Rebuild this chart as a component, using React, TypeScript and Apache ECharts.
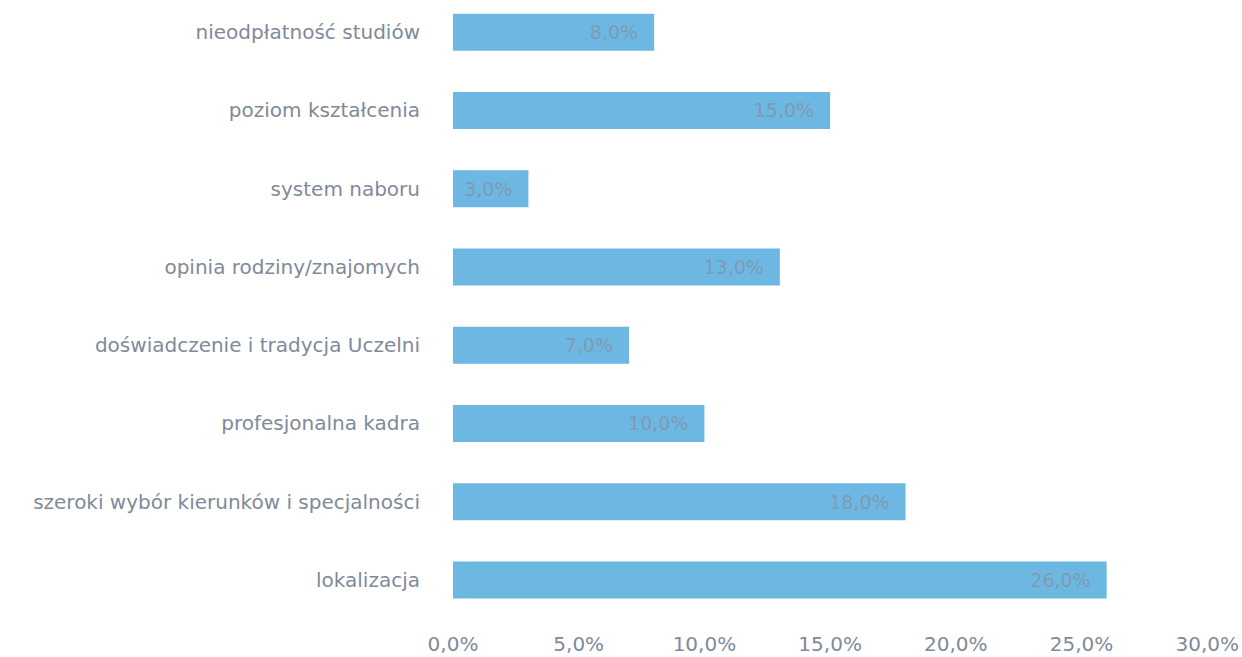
import React, { useEffect, useRef } from "react";
import * as echarts from "echarts";

const categories = [
  "lokalizacja",
  "szeroki wybór kierunków i specjalności",
  "profesjonalna kadra",
  "doświadczenie i tradycja Uczelni",
  "opinia rodziny/znajomych",
  "system naboru",
  "poziom kształcenia",
  "nieodpłatność studiów",
];
const values = [26, 18, 10, 7, 13, 3, 15, 8];
const axisMin = 0;
const axisMax = 30;
const axisStep = 5;

const fmt = (v: number) => v.toFixed(1).replace(".", ",") + "%";

export default function App() {
  const ref = useRef<HTMLDivElement>(null);
  useEffect(() => {
    document.body.style.margin = "0";
    document.body.style.overflow = "hidden";
    if (!ref.current) return;
    const chart = echarts.init(ref.current, null, { renderer: "svg" });
    chart.setOption({
      animation: false,
      backgroundColor: "#ffffff",
      grid: { left: 453, right: 32, top: 0, bottom: 38 },
      xAxis: {
        type: "value",
        min: axisMin,
        max: axisMax,
        interval: axisStep,
        axisLine: { show: false },
        axisTick: { show: false },
        splitLine: { show: false },
        axisLabel: {
          formatter: (v: number) => fmt(v),
          color: "#7f8a9b",
          fontSize: 20,
          fontFamily: "DejaVu Sans",
          margin: 15,
        },
      },
      yAxis: {
        type: "category",
        data: categories,
        axisLine: { show: false },
        axisTick: { show: false },
        axisLabel: {
          color: "#7f8a9b",
          fontSize: 20,
          fontFamily: "DejaVu Sans",
          margin: 33,
        },
      },
      series: [
        {
          type: "bar",
          data: values,
          barWidth: 37,
          itemStyle: { color: "#6cb8e2" },
          label: {
            show: true,
            position: "insideRight",
            distance: 16,
            formatter: (p: any) => fmt(p.value),
            color: "#7f9bb3",
            fontSize: 19,
            fontFamily: "DejaVu Sans",
          },
        },
      ],
    });
    return () => chart.dispose();
  }, []);
  return (
    <div
      ref={ref}
      style={{ position: "absolute", left: 0, top: -7, width: 1242, height: 664 }}
    />
  );
}
